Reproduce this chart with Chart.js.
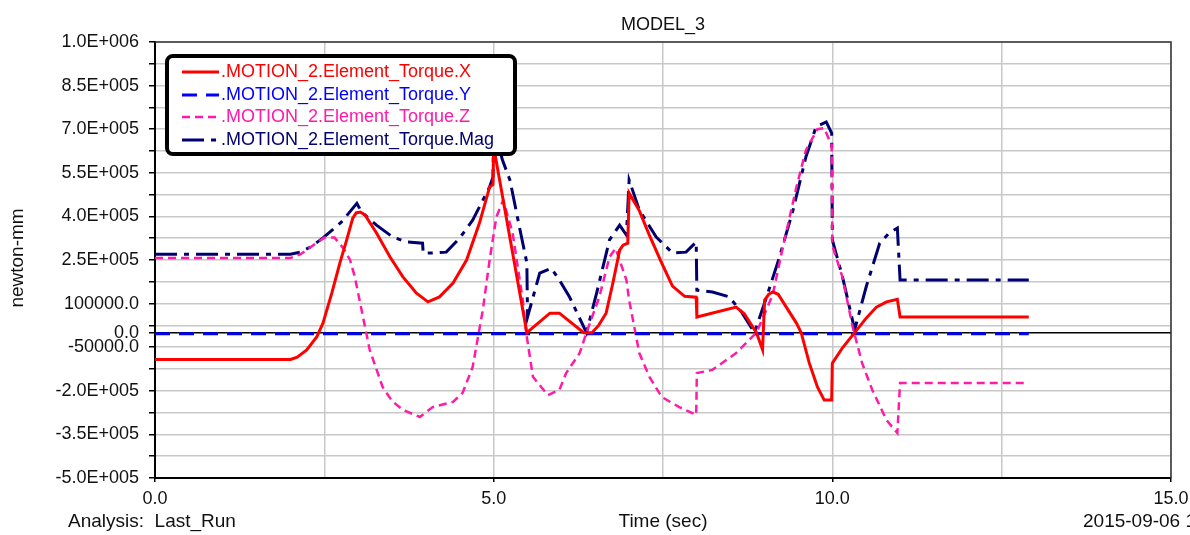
<!DOCTYPE html>
<html>
<head>
<meta charset="utf-8">
<title>MODEL_3</title>
<script src="https://cdn.jsdelivr.net/npm/chart.js@4"></script>
<style>
    html, body { margin: 0; padding: 0; background: #fff; }
    #wrap { width: 1190px; height: 535px; }
</style>
</head>
<body>
<div id="wrap"><canvas id="torqueChart"></canvas></div>
<script>
// values (time in sec, torque in newton-mm)
var xTime = [0, 2.0, 2.1, 2.24, 2.39, 2.48, 2.61, 2.73, 2.83, 2.92, 2.97, 3.03, 3.1, 3.27, 3.47, 3.66, 3.86, 4.03, 4.2, 4.4, 4.6, 4.79, 4.94, 4.99, 5.0, 5.49, 5.83, 5.97, 6.33, 6.45, 6.55, 6.66, 6.76, 6.86, 6.91, 6.98, 7.0, 7.15, 7.3, 7.48, 7.64, 7.82, 7.99, 8.0, 8.58, 8.7, 8.88, 8.97, 9.0, 9.06, 9.12, 9.2, 9.32, 9.47, 9.54, 9.66, 9.78, 9.88, 9.99, 10.0, 10.15, 10.33, 10.5, 10.65, 10.8, 10.96, 11.0, 12.9];
var xTorque = [-92000, -92000, -84000, -59000, -14000, 33000, 136000, 240000, 319000, 394000, 412000, 415000, 405000, 343000, 260000, 192000, 136000, 106000, 123000, 171000, 250000, 377000, 501000, 510000, 640000, 0, 67000, 67000, 0, 0, 25000, 67000, 171000, 284000, 301000, 308000, 480000, 420000, 335000, 240000, 160000, 125000, 122000, 54000, 88000, 65000, 0, -59000, 112000, 132000, 140000, 132000, 88000, 33000, 0, -105000, -187000, -232000, -232000, -105000, -52000, 0, 50000, 88000, 106000, 115000, 54000, 54000];

var yTime = [0, 12.9];
var yTorque = [-4000, -4000];

var zTime = [0, 2.0, 2.15, 2.3, 2.5, 2.65, 2.78, 2.88, 2.95, 3.02, 3.17, 3.36, 3.5, 3.66, 3.91, 4.1, 4.4, 4.54, 4.69, 4.84, 4.94, 5.04, 5.14, 5.28, 5.43, 5.48, 5.58, 5.8, 5.97, 6.07, 6.27, 6.37, 6.56, 6.71, 6.8, 6.96, 7.0, 7.15, 7.3, 7.48, 7.74, 7.99, 8.0, 8.23, 8.58, 8.88, 9.12, 9.26, 9.47, 9.61, 9.78, 9.88, 9.96, 9.99, 10.0, 10.15, 10.3, 10.44, 10.59, 10.8, 10.96, 11.0, 12.9];
var zTorque = [257000, 257000, 270000, 295000, 327000, 327000, 291000, 250000, 192000, 112000, -59000, -187000, -235000, -266000, -290000, -256000, -238000, -208000, -118000, 78000, 250000, 398000, 456000, 343000, 112000, 0, -152000, -215000, -197000, -139000, -70000, 0, 123000, 260000, 290000, 181000, 112000, -70000, -152000, -221000, -256000, -283000, -139000, -128000, -70000, 0, 130000, 284000, 501000, 628000, 700000, 704000, 660000, 647000, 300000, 190000, 20000, -105000, -197000, -301000, -345000, -173000, -173000];

var magTime = [0, 2.0, 2.14, 2.3, 2.48, 2.75, 2.98, 3.05, 3.27, 3.51, 3.71, 3.95, 3.96, 4.1, 4.3, 4.5, 4.69, 4.94, 4.99, 5.0, 5.13, 5.24, 5.38, 5.49, 5.5, 5.68, 5.85, 5.97, 6.12, 6.37, 6.52, 6.71, 6.86, 6.96, 7.0, 7.15, 7.4, 7.64, 7.84, 7.99, 8.0, 8.23, 8.48, 8.67, 8.85, 9.03, 9.22, 9.42, 9.61, 9.76, 9.91, 9.99, 10.0, 10.15, 10.33, 10.5, 10.7, 10.84, 10.96, 11.0, 12.9];
var magTorque = [270000, 270000, 277000, 295000, 326000, 380000, 445000, 415000, 370000, 329000, 312000, 308000, 274000, 274000, 277000, 326000, 387000, 501000, 536000, 700000, 594000, 525000, 364000, 240000, 54000, 205000, 222000, 181000, 123000, 0, 136000, 319000, 370000, 336000, 525000, 422000, 329000, 274000, 277000, 312000, 146000, 140000, 123000, 67000, 0, 123000, 260000, 422000, 605000, 708000, 725000, 687000, 319000, 192000, 10000, 158000, 308000, 343000, 360000, 181000, 181000];

var yTickValues = [-500000, -350000, -200000, -50000, 0, 100000, 250000, 400000, 550000, 700000, 850000, 1000000];
var yTickLabels = ['-5.0E+005', '-3.5E+005', '-2.0E+005', '-50000.0', '0.0', '100000.0', '2.5E+005', '4.0E+005', '5.5E+005', '7.0E+005', '8.5E+005', '1.0E+006'];
var xTickValues = [0, 5, 10, 15];
var xTickLabels = ['0.0', '5.0', '10.0', '15.0'];

var FONT = "'Liberation Sans', Arial, sans-serif";
var GRID = '#c8c8c8';

function toPoints(t, v) {
    return t.map(function (x, i) { return { x: x, y: v[i] }; });
}

// titles, footer texts, plot frame and the boxed legend inside the plot
var torqueText = {
    id: 'torqueText',
    afterDraw: function (chart) {
        var c = chart.ctx;
        var a = chart.chartArea;
        c.save();

        c.strokeStyle = '#333';
        c.lineWidth = 1.5;
        c.beginPath();
        c.moveTo(a.left, a.top);
        c.lineTo(a.right, a.top);
        c.lineTo(a.right, a.bottom);
        c.stroke();

        c.fillStyle = '#111';
        c.textBaseline = 'middle';
        c.font = '18px ' + FONT;
        c.textAlign = 'center';
        c.fillText('MODEL_3', 663, 25);

        c.font = '19px ' + FONT;
        c.fillText('Time (sec)', 663, 522);
        c.textAlign = 'left';
        c.fillText('Analysis:  Last_Run', 68, 522);
        c.fillText('2015-09-06 1', 1083, 522);

        c.save();
        c.translate(18, 258);
        c.rotate(-Math.PI / 2);
        c.textAlign = 'center';
        c.fillText('newton-mm', 0, 0);
        c.restore();

        // legend box
        c.beginPath();
        c.roundRect(167, 56, 348, 98, 6);
        c.fillStyle = '#fff';
        c.fill();
        c.lineWidth = 4;
        c.strokeStyle = '#000';
        c.stroke();

        var rows = [72, 95, 117, 140];
        c.font = '18px ' + FONT;
        c.textAlign = 'left';
        chart.data.datasets.forEach(function (ds, i) {
            c.beginPath();
            c.setLineDash(ds.borderDash || []);
            c.lineWidth = ds.borderWidth;
            c.strokeStyle = ds.borderColor;
            c.moveTo(182, rows[i]);
            c.lineTo(219, rows[i]);
            c.stroke();
            c.setLineDash([]);
            c.fillStyle = ds.borderColor;
            c.fillText(ds.label, 221, rows[i]);
        });
        c.restore();
    }
};

var ctx = document.getElementById('torqueChart').getContext('2d');
var torqueChart = new Chart(ctx, {
    type: 'line',
    data: {
        datasets: [{
            label: '.MOTION_2.Element_Torque.X',
            data: toPoints(xTime, xTorque),
            borderColor: '#ff0000',
            borderWidth: 3
        }, {
            label: '.MOTION_2.Element_Torque.Y',
            data: toPoints(yTime, yTorque),
            borderColor: '#0000ff',
            borderWidth: 3,
            borderDash: [15, 9]
        }, {
            label: '.MOTION_2.Element_Torque.Z',
            data: toPoints(zTime, zTorque),
            borderColor: '#ff1aa8',
            borderWidth: 2.5,
            borderDash: [8, 5]
        }, {
            label: '.MOTION_2.Element_Torque.Mag',
            data: toPoints(magTime, magTorque),
            borderColor: '#000070',
            borderWidth: 3,
            borderDash: [22, 7, 5, 7]
        }]
    },
    options: {
        responsive: true,
        maintainAspectRatio: false,
        animation: false,
        layout: { padding: { top: 42, right: 19, left: 0, bottom: 0 } },
        elements: {
            point: { radius: 0 },
            line: { tension: 0, fill: false }
        },
        plugins: {
            legend: { display: false },
            tooltip: { enabled: false }
        },
        scales: {
            x: {
                type: 'linear',
                min: 0,
                max: 15,
                afterBuildTicks: function (scale) {
                    var t = [];
                    for (var v = 0; v <= 15; v += 2.5) t.push({ value: v });
                    scale.ticks = t;
                },
                afterFit: function (scale) {
                    scale.height = 57;
                    scale.paddingLeft = 0;
                    scale.paddingRight = 0;
                },
                grid: {
                    color: function (c) { return c.tick && c.tick.value === 0 ? '#000' : GRID; },
                    lineWidth: 1.5,
                    tickLength: 4,
                    tickColor: function (c) {
                        return c.tick && xTickValues.indexOf(c.tick.value) >= 0 ? '#000' : 'rgba(0,0,0,0)';
                    }
                },
                border: { color: '#000', width: 2 },
                ticks: {
                    autoSkip: false,
                    maxRotation: 0,
                    padding: 6,
                    color: '#111',
                    font: { family: FONT, size: 18 },
                    callback: function (value) {
                        var i = xTickValues.indexOf(value);
                        return i >= 0 ? xTickLabels[i] : '';
                    }
                }
            },
            y: {
                min: -500000,
                max: 1000000,
                afterBuildTicks: function (scale) {
                    var t = [];
                    for (var v = -500000; v <= 1000000; v += 75000) t.push(v);
                    t.push(0);
                    t.sort(function (a, b) { return a - b; });
                    scale.ticks = t.map(function (v) { return { value: v }; });
                },
                afterFit: function (scale) {
                    scale.width = 155;
                    scale.paddingTop = 0;
                    scale.paddingBottom = 0;
                },
                grid: {
                    color: function (c) {
                        var v = c.tick && c.tick.value;
                        return (v === 0 || v === -500000) ? '#000' : GRID;
                    },
                    lineWidth: 1.5,
                    tickLength: 6,
                    tickColor: '#000'
                },
                border: { color: '#000', width: 2 },
                ticks: {
                    autoSkip: false,
                    padding: 10,
                    color: '#111',
                    font: { family: FONT, size: 18 },
                    callback: function (value) {
                        var i = yTickValues.indexOf(value);
                        return i >= 0 ? yTickLabels[i] : '';
                    }
                }
            }
        }
    },
    plugins: [torqueText]
});
</script>
</body>
</html>
